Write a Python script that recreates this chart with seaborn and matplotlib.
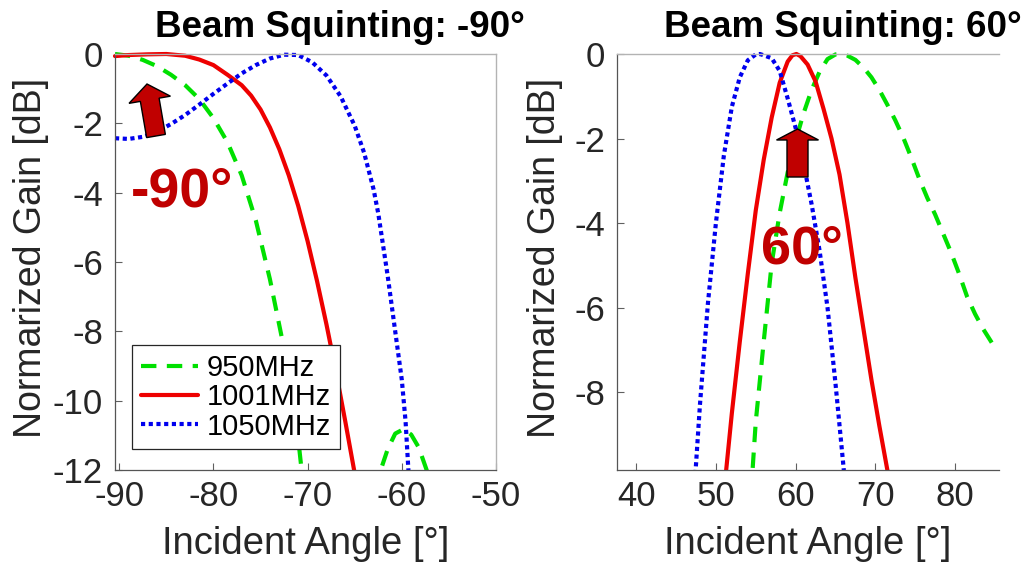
import numpy as np
import pandas as pd
import matplotlib
matplotlib.use("Agg")
import matplotlib.pyplot as plt
import seaborn as sns
from matplotlib.patches import FancyArrow
from matplotlib.transforms import Affine2D, Bbox, TransformedBbox

# ---------------- data ----------------
freq_labels = ["950MHz", "1001MHz", "1050MHz"]

# Beam squinting -90 deg: angle [deg] / normalized gain [dB]
l950_x = [-90.45, -89, -87.5, -86, -84.5, -83, -81.5, -80, -78.5, -77, -75.5, -74, -72.5,
          -71, -70.4, -66.5, -63, -62.3, -61.5, -60.7, -59.8, -59, -58.2, -57.3, -56.5]
l950_y = [0.0, -0.05, -0.17, -0.35, -0.6, -0.9, -1.3, -1.85, -2.55, -3.5, -4.8, -6.5, -8.5,
          -11.1, -12.6, -30.0, -13.2, -12.05, -11.4, -10.95, -10.82, -10.98, -11.35, -12.05, -12.8]

l1001_x = [-90.45, -89, -87, -85, -83, -81.5, -80, -78.5, -77, -76, -75, -74, -73, -72, -71,
           -70, -69, -68, -67, -66, -65, -64.7]
l1001_y = [-0.06, -0.03, -0.01, 0.0, -0.05, -0.16, -0.32, -0.6, -0.9, -1.2, -1.6, -2.12, -2.75,
           -3.5, -4.38, -5.4, -6.55, -7.8, -9.15, -10.6, -12.1, -12.55]

l1050_x = [-90.45, -89, -87.5, -86, -84.5, -83, -81.5, -80, -78.5, -77, -75.5, -74, -72.5,
           -71, -69.5, -68, -66.5, -65, -64, -63, -62.5, -62, -61.5, -61, -60.5, -60,
           -59.6, -59.3, -59.15]
l1050_y = [-2.43, -2.45, -2.39, -2.24, -2.02, -1.76, -1.46, -1.15, -0.85, -0.56, -0.32, -0.13, -0.02,
           -0.03, -0.24, -0.62, -1.22, -2.07, -2.85, -3.9, -4.6, -5.5, -6.4, -7.4, -8.4, -9.4,
           -10.6, -12.0, -12.6]

# Beam squinting 60 deg
r950_x = [54.4, 55, 56, 57, 58, 59, 60, 61, 62, 63, 64, 65, 65.6, 66.5, 67.5, 68.5, 69.5,
          70.5, 71.5, 72.5, 73.5, 74.5, 75.5, 76.5, 77.5, 78.5, 79.5, 80.5, 81.5, 82.5,
          83.5, 84.5, 85]
r950_y = [-10.4, -8.7, -6.8, -4.95, -3.76, -2.8, -2.05, -1.4, -0.85, -0.42, -0.12, -0.01, 0.0,
          -0.04, -0.14, -0.32, -0.55, -0.85, -1.2, -1.57, -1.98, -2.45, -2.95, -3.4, -3.8,
          -4.25, -4.7, -5.2, -5.74, -6.15, -6.5, -6.8, -6.96]

r1001_x = [51.1, 52, 53, 54, 55, 56, 57, 58, 59, 59.6, 60.1, 60.6, 61.5, 62.5, 63.5, 64.5,
           65.5, 66.5, 67.5, 68.5, 69.5, 70.5, 71.5, 71.8]
r1001_y = [-10.2, -8.5, -6.8, -5.2, -3.7, -2.5, -1.5, -0.68, -0.18, -0.03, 0.0, -0.05, -0.25,
           -0.65, -1.3, -2.0, -2.85, -4.0, -5.3, -6.5, -7.7, -8.8, -9.84, -10.2]

r1050_x = [47.3, 48, 49, 50, 51, 52, 53, 54, 55, 55.5, 56, 57, 58, 59, 60, 61, 62, 63, 64,
           65, 66, 66.3]
r1050_y = [-10.3, -8.3, -5.9, -4.0, -2.4, -1.25, -0.55, -0.15, -0.01, 0.0, -0.03, -0.1, -0.4,
           -1.05, -1.75, -2.6, -3.55, -4.65, -6.0, -7.8, -9.76, -10.4]

left_ticks_x = [-90, -80, -70, -60, -50]
left_ticks_y = [-12, -10, -8, -6, -4, -2, 0]
right_ticks_x = [40, 50, 60, 70, 80]
right_ticks_y = [-8, -6, -4, -2, 0]

# ---------------- style ----------------
sns.set_style("white")
plt.rcParams["font.family"] = ["Liberation Sans", "DejaVu Sans"]

W, H = 1030, 567
fig = plt.figure(figsize=(W / 100, H / 100), dpi=100)
PX = Affine2D().scale(1 / W, -1 / H).translate(0, 1) + fig.transFigure

ax1 = fig.add_axes([115 / W, 1 - 470 / H, 381 / W, 416 / H])
ax2 = fig.add_axes([617 / W, 1 - 470 / H, 382 / W, 416 / H])

GREEN, RED, BLUE = "#00e000", "#ee0000", "#0000ee"
LW = 3.0
styles = {
    "950MHz": dict(color=GREEN, linestyle=(0, (3.7, 2.5)), lw=LW),
    "1001MHz": dict(color=RED, linestyle="-", lw=LW),
    "1050MHz": dict(color=BLUE, linestyle=(0, (1.0, 0.85)), lw=LW),
}

def draw(ax, series):
    for name, xs, ys in series:
        df = pd.DataFrame({"angle": xs, "gain": ys})
        sns.lineplot(data=df, x="angle", y="gain", ax=ax, label=name,
                     estimator=None, sort=False, **styles[name])
    # let lines sitting on 0 dB show their full width above the top edge
    for ln in ax.lines:
        ln.set_clip_path(None)
        ln.set_clip_box(TransformedBbox(Bbox([[-0.012, 0.0], [1.0, 1.012]]), ax.transAxes))

draw(ax1, [("950MHz", l950_x, l950_y), ("1001MHz", l1001_x, l1001_y), ("1050MHz", l1050_x, l1050_y)])
draw(ax2, [("950MHz", r950_x, r950_y), ("1001MHz", r1001_x, r1001_y), ("1050MHz", r1050_x, r1050_y)])

ax1.set_xlim(-90.45, -50)
ax1.set_ylim(-12, 0)
ax1.set_xticks(left_ticks_x)
ax1.set_yticks(left_ticks_y)
ax2.set_xlim(37.6, 85.5)
ax2.set_ylim(-9.84, 0)
ax2.set_xticks(right_ticks_x)
ax2.set_yticks(right_ticks_y)

TXT = "#262626"
for ax in (ax1, ax2):
    ax.set_xticklabels([str(t) for t in ax.get_xticks().astype(int)])
    ax.set_yticklabels([str(t) for t in ax.get_yticks().astype(int)])
    ax.tick_params(direction="in", length=5, width=0.8, color="#606060",
                   labelsize=25, labelcolor=TXT,
                   top=False, right=False, bottom=True, left=True)
    ax.tick_params(axis="y", pad=8.5)
    ax.tick_params(axis="x", pad=7.5)
    for s in ("left", "bottom"):
        ax.spines[s].set_color("#555555")
        ax.spines[s].set_linewidth(0.9)
    ax.spines["top"].set_color("#b3b3b3")
    ax.spines["top"].set_linewidth(1.0)
    ax.set_xlabel("Incident Angle [°]", fontsize=27.5, color=TXT, labelpad=9)
    ax.set_ylabel("Normarized Gain [dB]", fontsize=27, color=TXT)

ax1.spines["right"].set_color("#b3b3b3")
ax1.spines["right"].set_linewidth(1.0)
ax2.spines["right"].set_visible(False)

ax1.yaxis.set_label_coords(-0.172, 0.51)
ax2.yaxis.set_label_coords(-0.141, 0.51)

ax2.get_legend().remove()
leg = ax1.legend(loc="upper left", bbox_to_anchor=((132 - 115) / 381, (470 - 345) / 416),
                 bbox_transform=ax1.transAxes, fontsize=21, frameon=True, fancybox=False,
                 framealpha=1, edgecolor="#262626", handlelength=1.95, handletextpad=0.3,
                 borderpad=0.3, labelspacing=0.05, borderaxespad=0)
leg.get_frame().set_linewidth(0.9)
for t in leg.get_texts():
    t.set_color("black")

# titles
fig.text(340, 37, "Beam Squinting: -90°", transform=PX, ha="center", va="baseline",
         fontsize=26.5, fontweight="bold", color="black")
fig.text(843, 37, "Beam Squinting: 60°", transform=PX, ha="center", va="baseline",
         fontsize=26.5, fontweight="bold", color="black")

# squint-direction markers
DARK_RED = "#c00000"
fig.add_artist(FancyArrow(156, 136, -9, -52, width=19, head_width=42, head_length=16,
                          length_includes_head=True, fc=DARK_RED, ec="black", lw=1.0,
                          transform=PX))
fig.add_artist(FancyArrow(797.5, 177, 0, -48, width=21, head_width=42, head_length=11,
                          length_includes_head=True, fc=DARK_RED, ec="black", lw=1.0,
                          transform=PX))
fig.text(182.5, 206.5, "-90°", transform=PX, ha="center", va="baseline",
         fontsize=40, fontweight="bold", color=DARK_RED)
fig.text(801.5, 263, "60°", transform=PX, ha="center", va="baseline",
         fontsize=39, fontweight="bold", color=DARK_RED)

fig.savefig("out.png", dpi=100)
